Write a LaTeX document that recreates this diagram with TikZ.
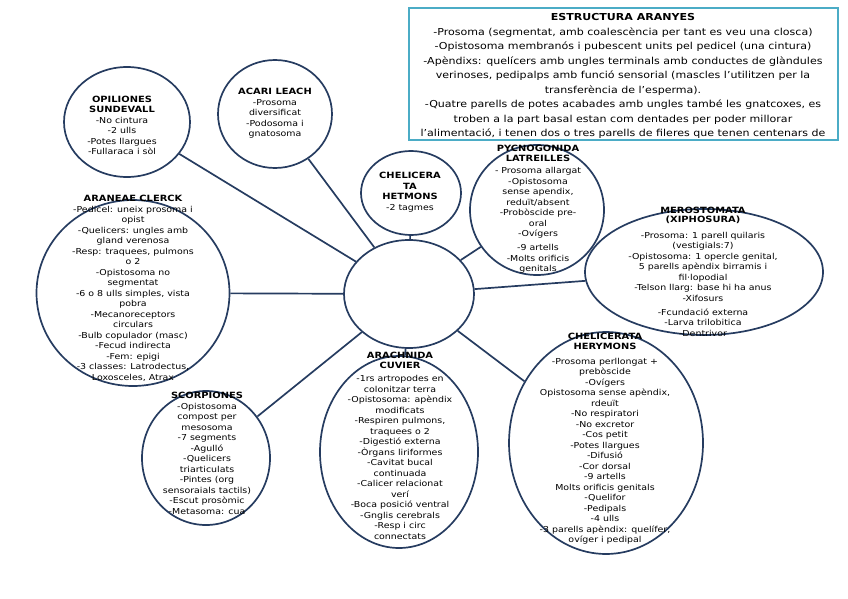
\documentclass[tikz,border=0pt]{standalone}
\usepackage{fontspec}
\setmainfont{DejaVu Sans}[FakeStretch=1.15]
\usetikzlibrary{shapes.geometric}
\definecolor{navy}{RGB}{38,60,96}
\definecolor{tealb}{RGB}{75,172,198}
\newcommand\mytxt{\fontsize{8.2}{10.5}\selectfont}
\newcommand\ttl[1]{{\fontsize{8.6}{10.5}\selectfont\bfseries #1}}
\newcommand\boxtxt{\fontsize{9.6}{14.5}\selectfont}
\begin{document}
\begin{tikzpicture}[x=1pt,y=-1pt,
 ell/.style={draw=navy, line width=1.7pt, ellipse, inner sep=0pt},
 link/.style={draw=navy, line width=1.7pt},
 lbl/.style={align=center, inner sep=0pt, font=\mytxt, text=black}]
\useasboundingbox (0,0) rectangle (848,599);

% ellipses
\node[ell, minimum width=126pt, minimum height=110pt] (opi) at (127,122) {};
\node[ell, minimum width=114pt, minimum height=108pt] (acari) at (275,114) {};
\node[ell, minimum width=193pt, minimum height=186pt] (aran) at (133,293) {};
\node[ell, minimum width=128pt, minimum height=134pt] (scorp) at (206,458) {};
\node[ell, minimum width=100pt, minimum height=84pt] (chel) at (411,193) {};
\node[ell, minimum width=130pt, minimum height=108pt] (cen) at (409,294) {};
\node[ell, minimum width=134pt, minimum height=130pt] (pycno) at (537,210) {};
\node[ell, minimum width=238pt, minimum height=126pt] (mero) at (704,272) {};
\node[ell, minimum width=158pt, minimum height=192pt] (arach) at (399,452) {};
\node[ell, minimum width=194pt, minimum height=222pt] (hery) at (606,443) {};

% connectors
\draw[link] (cen) -- (opi);
\draw[link] (cen) -- (acari);
\draw[link] (cen) -- (aran);
\draw[link] (cen) -- (scorp);
\draw[link] (cen) -- (chel);
\draw[link] (cen) -- (pycno);
\draw[link] (cen) -- (mero);
\draw[link] (cen) -- (arach);
\draw[link] (cen) -- (hery);

% texts
\node[lbl] (topi) at (122,125.5) {\ttl{OPILIONES}\\\ttl{SUNDEVALL}\\-No cintura\\-2 ulls\\-Potes llargues\\-Fullaraca i sòl};
\node[lbl] (tacari) at (275,113.5) {\ttl{ACARI LEACH}\\-Prosoma\\diversificat\\-Podosoma i\\gnatosoma};
\node[lbl] (taran) at (133,288.5) {\ttl{ARANEAE CLERCK}\\-Pedicel: uneix prosoma i\\opist\\-Quelicers: ungles amb\\gland verenosa\\-Resp: traquees, pulmons\\o 2\\-Opistosoma no\\segmentat\\-6 o 8 ulls simples, vista\\pobra\\-Mecanoreceptors\\circulars\\-Bulb copulador (masc)\\-Fecud indirecta\\-Fem: epigi\\-3 classes: Latrodectus,\\Loxosceles, Atrax};
\node[lbl] (tscorp) at (207,453.5) {\ttl{SCORPIONES}\\-Opistosoma\\compost per\\mesosoma\\-7 segments\\-Agulló\\-Quelicers\\triarticulats\\-Pintes (org\\sensoraials tactils)\\-Escut prosòmic\\-Metasoma: cua};
\node[lbl] (tchel) at (410,192) {\ttl{CHELICERA}\\\ttl{TA}\\\ttl{HETMONS}\\-2 tagmes};
\node[lbl] (tpycno) at (538,209) {\ttl{PYCNOGONIDA}\\\ttl{LATREILLES}\\[1.5pt]- Prosoma allargat\\-Opistosoma\\sense apendix,\\reduït/absent\\-Probòscide pre-\\oral\\-Ovígers\\[3.5pt]-9 artells\\-Molts orificis\\genitals};
\node[lbl] (tmero) at (703,271.5) {\ttl{MEROSTOMATA}\\[-1pt]\ttl{(XIPHOSURA)}\\[5pt]-Prosoma: 1 parell quilaris\\(vestigials:7)\\-Opistosoma: 1 opercle genital,\\5 parells apèndix birramis i\\fil·lopodial\\-Telson llarg: base hi ha anus\\-Xifosurs\\[3.5pt]-Fcundació externa\\-Larva trilobitica\\-Dentrivor};
\node[lbl] (tarach) at (400,445.5) {\ttl{ARACHNIDA}\\\ttl{CUVIER}\\[2.5pt]-1rs artropodes en\\colonitzar terra\\-Opistosoma: apèndix\\modificats\\-Respiren pulmons,\\traquees o 2\\-Digestió externa\\-Òrgans liriformes\\-Cavitat bucal\\continuada\\-Calicer relacionat\\verí\\-Boca posició ventral\\-Gnglis cerebrals\\-Resp i circ\\connectats};
\node[lbl] (thery) at (605,438.5) {\ttl{CHELICERATA}\\\ttl{HERYMONS}\\[4pt]-Prosoma perllongat +\\prebòscide\\-Ovígers\\Opistosoma sense apèndix,\\rdeuït\\-No respiratori\\-No excretor\\-Cos petit\\-Potes llargues\\-Difusió\\-Cor dorsal\\-9 artells\\Molts orificis genitals\\-Quelifor\\-Pedipals\\-4 ulls\\-3 parells apèndix: quelífer,\\ovíger i pedipal};

% text box
\begin{scope}
\clip (410,9) rectangle (837,139);
\node[align=center, inner sep=0pt, font=\boxtxt] (testr) at (623,76) {\textbf{ESTRUCTURA ARANYES}\\-Prosoma (segmentat, amb coalescència per tant es veu una closca)\\-Opistosoma membranós i pubescent units pel pedicel (una cintura)\\-Apèndixs: quelícers amb ungles terminals amb conductes de glàndules\\verinoses, pedipalps amb funció sensorial (mascles l'utilitzen per la\\transferència de l'esperma).\\-Quatre parells de potes acabades amb ungles també les gnatcoxes, es\\troben a la part basal estan com dentades per poder millorar\\l'alimentació, i tenen dos o tres parells de fileres que tenen centenars de};
\end{scope}
\node[draw=tealb, line width=1.5pt, minimum width=429pt, minimum height=132pt, inner sep=0pt] (estr) at (623.5,74) {};
\end{tikzpicture}
\end{document}
